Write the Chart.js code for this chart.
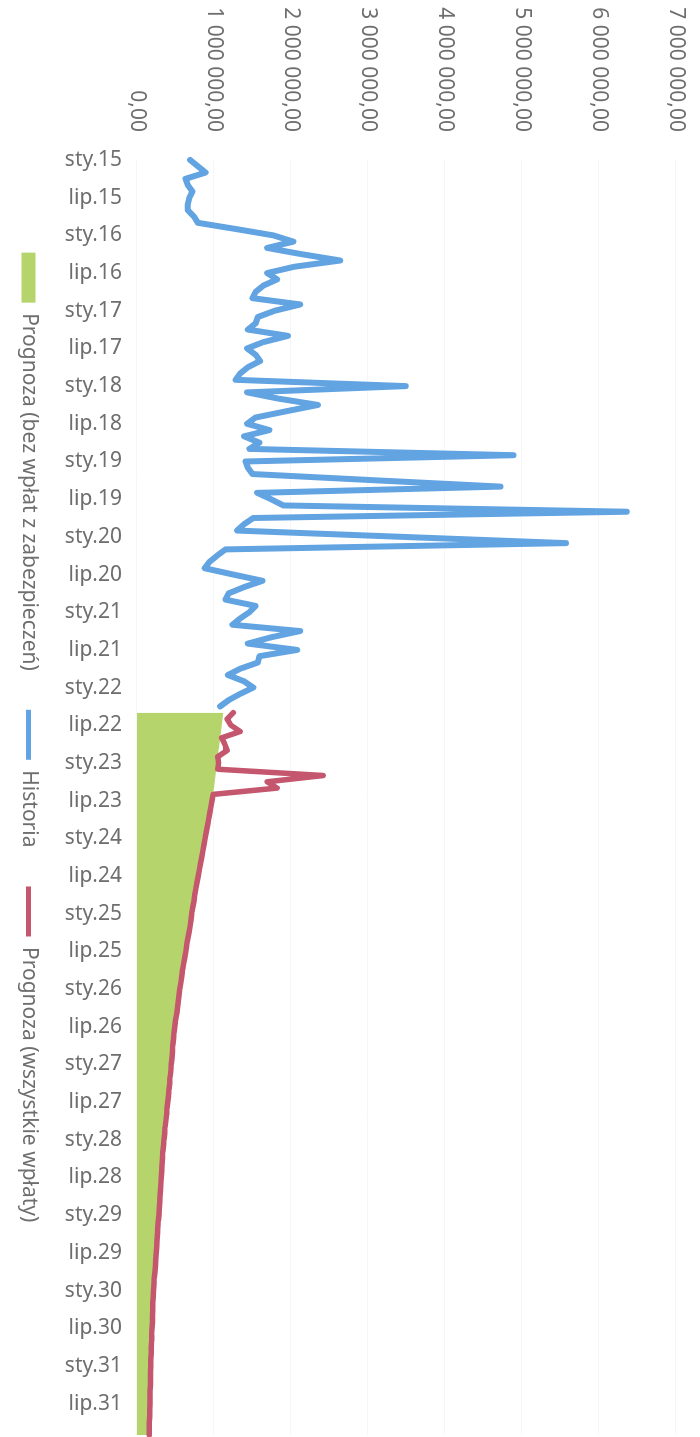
<!DOCTYPE html>
<html lang="pl">
<head>
<meta charset="utf-8">
<title>Historia i prognoza</title>
<script src="https://cdn.jsdelivr.net/npm/chart.js@4.4.1/dist/chart.umd.min.js"></script>
<style>
  html, body { margin: 0; padding: 0; background: #fff; overflow: hidden; }
  /* the chart is drawn landscape and turned a quarter clockwise, like the scan */
  #wrap {
    position: absolute; left: 0; top: 0;
    width: 1437px; height: 700px;
    transform-origin: 0 0;
    transform: translateX(700px) rotate(90deg);
  }
</style>
</head>
<body>
<div id="wrap"><canvas id="chart" width="1437" height="700"></canvas></div>
<script>
// month labels, only sty / lip are printed on the axis
const monthNames = ['sty', 'lut', 'mar', 'kwi', 'maj', 'cze', 'lip', 'sie', 'wrz', 'paź', 'lis', 'gru'];
const years = ['15', '16', '17', '18', '19', '20', '21', '22', '23', '24', '25', '26', '27', '28', '29', '30', '31'];
const categories = [];
years.forEach(y => monthNames.forEach(m => categories.push(m + '.' + y)));

const valueTicks = [0, 1000000, 2000000, 3000000, 4000000, 5000000, 6000000, 7000000];

// sty.15 - kwi.22
const historia = [
  690000, 790000, 890000, 630000, 660000, 720000, 680000, 660000, 660000, 740000, 790000, 1290000,
  1770000, 2030000, 1690000, 2140000, 2640000, 2040000, 1690000, 1820000, 1640000, 1540000, 1500000, 2120000,
  1790000, 1570000, 1540000, 1440000, 1960000, 1640000, 1430000, 1540000, 1600000, 1440000, 1340000, 1280000,
  3490000, 1430000, 1840000, 2350000, 1940000, 1540000, 1430000, 1720000, 1390000, 1590000, 1460000, 4890000,
  1410000, 1440000, 1500000, 3100000, 4720000, 1560000, 1740000, 1900000, 6360000, 1510000, 1390000, 1300000,
  3440000, 5570000, 1150000, 1040000, 940000, 880000, 1250000, 1630000, 1390000, 1190000, 1150000, 1540000,
  1460000, 1340000, 1240000, 2120000, 1740000, 1440000, 2080000, 1590000, 1570000, 1340000, 1180000, 1390000,
  1510000, 1340000, 1190000, 1080000
];

// maj.22 - gru.31
const prognozaWszystkie = [
  1250000, 1170000, 1220000, 1340000, 1100000, 1140000, 1170000, 1050000,
  1060000, 1050000, 2420000, 1690000, 1820000, 990000, 975000, 960000, 945000, 930000, 915000, 900000,
  885000, 870000, 855000, 840000, 825000, 810000, 795000, 780000, 765000, 750000, 740000, 725000,
  710000, 700000, 690000, 675000, 660000, 645000, 635000, 620000, 605000, 590000, 580000, 570000,
  555000, 545000, 535000, 525000, 515000, 500000, 490000, 480000, 475000, 465000, 460000, 455000,
  445000, 440000, 430000, 425000, 415000, 410000, 400000, 390000, 385000, 375000, 365000, 360000,
  350000, 345000, 335000, 330000, 325000, 320000, 315000, 310000, 305000, 300000, 295000, 290000,
  285000, 275000, 270000, 265000, 260000, 255000, 250000, 245000, 240000, 235000, 225000, 220000,
  215000, 210000, 205000, 205000, 200000, 200000, 195000, 190000, 190000, 185000, 185000, 180000,
  180000, 175000, 175000, 175000, 170000, 170000, 170000, 165000, 165000, 160000, 160000, 160000
];

const prognozaBez = [
  1120000, 1110000, 1100000, 1090000, 1080000, 1070000, 1060000, 1050000,
  1040000, 1030000, 1020000, 1010000, 1000000, 985000, 975000, 960000, 945000, 930000, 915000, 900000,
  885000, 870000, 855000, 840000, 825000, 810000, 795000, 780000, 765000, 750000, 740000, 725000,
  710000, 700000, 690000, 675000, 660000, 645000, 635000, 620000, 605000, 590000, 580000, 570000,
  555000, 545000, 535000, 525000, 515000, 500000, 490000, 480000, 475000, 465000, 460000, 455000,
  445000, 440000, 430000, 425000, 415000, 410000, 400000, 390000, 385000, 375000, 365000, 360000,
  350000, 345000, 335000, 330000, 325000, 320000, 315000, 310000, 305000, 300000, 295000, 290000,
  285000, 275000, 270000, 265000, 260000, 255000, 250000, 245000, 240000, 235000, 225000, 220000,
  215000, 210000, 205000, 205000, 200000, 200000, 195000, 190000, 190000, 185000, 185000, 180000,
  180000, 175000, 175000, 175000, 170000, 170000, 170000, 165000, 165000, 160000, 160000, 160000
];

const BLUE = '#62a3e2';
const RED = '#c4566e';
const GREEN = '#b5d56c';
const TEXT = '#6e6e6e';
const FONT = "'Noto Sans', 'DejaVu Sans', sans-serif";

// forecast series start where the history stops
const lead = historia.map(() => null);
const tail = prognozaBez.map(() => null);

function fmt(v) {
  return String(v).replace(/\B(?=(\d{3})+(?!\d))/g, ' ') + ',00';
}

// scales clip their labels to their own box; widen the boxes after layout
const unclipLabels = {
  id: 'unclipLabels',
  afterLayout(chart) {
    chart.scales.y.left = 0;
    chart.scales.x.bottom = chart.height;
  }
};

new Chart(document.getElementById('chart').getContext('2d'), {
  type: 'line',
  data: {
    labels: categories,
    datasets: [
      {
        label: 'Prognoza (bez wpłat z zabezpieczeń)',
        data: lead.concat(prognozaBez),
        backgroundColor: GREEN,
        borderColor: GREEN,
        borderWidth: 0,
        fill: 'origin',
        pointRadius: 0
      },
      {
        label: 'Historia',
        data: historia.concat(tail),
        borderColor: BLUE,
        borderWidth: 6,
        borderJoinStyle: 'round',
        borderCapStyle: 'round',
        fill: false,
        pointRadius: 0
      },
      {
        label: 'Prognoza (wszystkie wpłaty)',
        data: lead.concat(prognozaWszystkie),
        borderColor: RED,
        borderWidth: 5.5,
        borderJoinStyle: 'round',
        borderCapStyle: 'round',
        fill: false,
        pointRadius: 0
      }
    ]
  },
  plugins: [unclipLabels],
  options: {
    responsive: false,
    animation: false,
    layout: { padding: { left: 40, right: 2, top: 24, bottom: 8 } },
    plugins: {
      filler: { drawTime: 'beforeDatasetsDraw' },
      tooltip: { enabled: false },
      legend: {
        position: 'bottom',
        labels: {
          color: TEXT,
          font: { family: FONT, size: 21 },
          padding: 39,
          usePointStyle: true,
          pointStyleWidth: 50,
          boxHeight: 14,
          generateLabels(chart) {
            return chart.data.datasets.map((ds, i) => ({
              text: ds.label,
              datasetIndex: i,
              fillStyle: ds.fill ? ds.backgroundColor : ds.borderColor,
              strokeStyle: ds.borderColor,
              lineWidth: ds.fill ? 0 : 5,
              pointStyle: ds.fill ? 'rect' : 'line',
              fontColor: TEXT
            }));
          }
        }
      }
    },
    scales: {
      x: {
        grid: { display: false, drawTicks: false },
        border: { display: false },
        ticks: {
          autoSkip: false,
          minRotation: 90,
          maxRotation: 90,
          padding: 15,
          color: TEXT,
          font: { family: FONT, size: 21 },
          callback: (v, i) => (i % 6 === 0 ? categories[i] : '')
        },
        afterFit(scale) {
          scale.height = 59;
          scale.paddingLeft = 0;
          scale.paddingRight = 0;
        }
      },
      y: {
        min: valueTicks[0],
        max: valueTicks[valueTicks.length - 1],
        afterBuildTicks(scale) {
          scale.ticks = valueTicks.map(v => ({ value: v }));
        },
        grid: { color: 'rgba(0,0,0,0.035)', drawTicks: false },
        border: { display: false },
        ticks: {
          padding: 28,
          color: TEXT,
          font: { family: FONT, size: 21 },
          callback: v => fmt(v)
        },
        afterFit(scale) {
          scale.width = 120;
          scale.paddingTop = 0;
          scale.paddingBottom = 0;
        }
      }
    }
  }
});
</script>
</body>
</html>
